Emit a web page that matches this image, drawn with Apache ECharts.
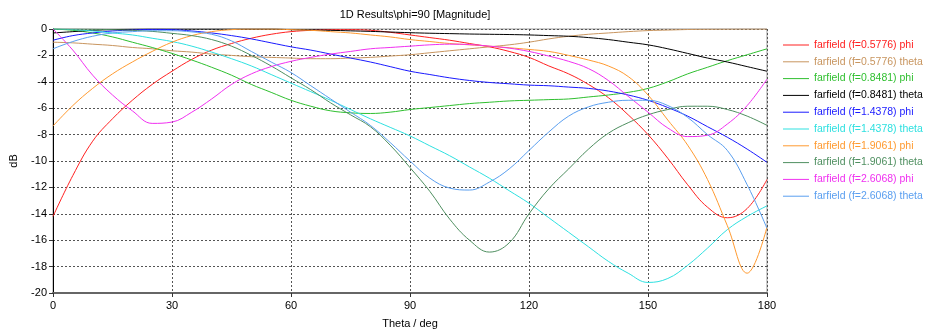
<!DOCTYPE html>
<html>
<head>
<meta charset="utf-8">
<script src="https://cdn.jsdelivr.net/npm/echarts@6/dist/echarts.min.js"></script>
<style>
html,body{margin:0;padding:0;background:#fff;}
#chart{width:933px;height:335px;}
</style>
</head>
<body>
<div id="chart"></div>
<script>
// Theta grid (deg)
const thetaDeg = [0,5,10,15,20,25,30,35,40,45,50,55,60,65,70,75,80,85,90,95,100,105,110,115,120,125,130,135,140,145,150,155,160,165,170,175,180];

const seriesNames = [
  'farfield (f=0.5776) phi',
  'farfield (f=0.5776) theta',
  'farfield (f=0.8481) phi',
  'farfield (f=0.8481) theta',
  'farfield (f=1.4378) phi',
  'farfield (f=1.4378) theta',
  'farfield (f=1.9061) phi',
  'farfield (f=1.9061) theta',
  'farfield (f=2.6068) phi',
  'farfield (f=2.6068) theta'
];

const f05776Phi   = [-14.2,-11.1,-8.5,-6.8,-5.4,-4.2,-3.2,-2.3,-1.6,-1.1,-0.7,-0.4,-0.2,-0.1,-0.05,-0.05,-0.1,-0.25,-0.45,-0.65,-0.85,-1.1,-1.35,-1.7,-2.15,-2.8,-3.4,-4.2,-5.2,-6.5,-8.0,-9.8,-11.8,-13.5,-14.3,-13.6,-11.4];
const f05776Theta = [-1.0,-1.05,-1.15,-1.25,-1.4,-1.5,-1.65,-1.75,-1.9,-2.0,-2.1,-2.15,-2.2,-2.25,-2.25,-2.2,-2.15,-2.05,-1.95,-1.8,-1.65,-1.5,-1.35,-1.2,-1.0,-0.75,-0.55,-0.4,-0.3,-0.2,-0.12,-0.08,-0.04,-0.02,-0.01,0,0];
const f08481Phi   = [0,-0.1,-0.3,-0.6,-1.0,-1.4,-1.85,-2.35,-2.9,-3.5,-4.2,-4.8,-5.4,-5.85,-6.2,-6.35,-6.4,-6.3,-6.1,-5.95,-5.8,-5.65,-5.55,-5.45,-5.4,-5.35,-5.3,-5.15,-5.0,-4.8,-4.5,-4.0,-3.4,-2.9,-2.4,-1.95,-1.5];
const f08481Theta = [-0.3,-0.2,-0.1,-0.05,-0.02,0,0,0,0,0,0,0,-0.05,-0.07,-0.1,-0.14,-0.18,-0.23,-0.28,-0.32,-0.35,-0.38,-0.4,-0.42,-0.45,-0.5,-0.55,-0.65,-0.8,-1.0,-1.2,-1.5,-1.85,-2.2,-2.5,-2.85,-3.2];
const f14378Phi   = [-0.85,-0.5,-0.3,-0.15,-0.08,-0.03,-0.05,-0.15,-0.3,-0.5,-0.75,-1.05,-1.35,-1.6,-1.9,-2.2,-2.5,-2.85,-3.2,-3.45,-3.7,-3.9,-4.05,-4.15,-4.25,-4.3,-4.4,-4.5,-4.7,-5.0,-5.4,-5.95,-6.6,-7.4,-8.2,-9.1,-10.1];
const f14378Theta = [0,-0.05,-0.15,-0.3,-0.45,-0.7,-0.95,-1.3,-1.75,-2.25,-2.8,-3.45,-4.1,-4.75,-5.4,-6.1,-6.8,-7.45,-8.1,-8.85,-9.6,-10.45,-11.3,-12.25,-13.2,-14.3,-15.4,-16.5,-17.6,-18.5,-19.2,-18.9,-17.9,-16.6,-15.2,-14.2,-13.4];
const f19061Phi   = [-7.35,-5.8,-4.5,-3.4,-2.5,-1.7,-1.0,-0.5,-0.2,-0.05,0,0,-0.05,-0.1,-0.2,-0.3,-0.45,-0.6,-0.8,-0.95,-1.1,-1.2,-1.3,-1.42,-1.55,-1.7,-2.0,-2.35,-2.8,-3.6,-5.0,-6.9,-8.8,-11.4,-14.9,-18.5,-15.0];
const f19061Theta = [0,0,-0.02,-0.05,-0.1,-0.18,-0.33,-0.5,-0.8,-1.3,-2.0,-2.8,-3.7,-4.6,-5.6,-6.5,-7.4,-8.8,-10.5,-12.3,-14.4,-16.0,-16.9,-16.2,-14.0,-12.1,-10.6,-9.1,-7.9,-7.1,-6.5,-6.1,-5.85,-5.85,-6.1,-6.6,-7.3];
const f26068Phi   = [0,-1.6,-3.5,-5.0,-6.2,-7.15,-7.05,-6.3,-5.3,-4.2,-3.4,-2.85,-2.45,-2.15,-1.9,-1.7,-1.5,-1.4,-1.3,-1.2,-1.15,-1.18,-1.3,-1.45,-1.7,-2.05,-2.45,-3.0,-3.9,-5.1,-6.3,-7.5,-8.15,-8.05,-7.2,-5.8,-3.8];
const f26068Theta = [-1.5,-0.95,-0.55,-0.3,-0.2,-0.13,-0.13,-0.22,-0.4,-0.9,-1.7,-2.5,-3.3,-4.3,-5.3,-6.3,-7.3,-8.6,-10.0,-11.3,-12.05,-12.2,-11.6,-10.6,-9.2,-7.8,-6.6,-5.9,-5.55,-5.4,-5.4,-5.8,-6.7,-8.0,-9.2,-11.8,-15.1];

const seriesValues = [f05776Phi,f05776Theta,f08481Phi,f08481Theta,f14378Phi,f14378Theta,f19061Phi,f19061Theta,f26068Phi,f26068Theta];
const seriesColors = ['#ff2020','#c8955f','#2fbf2f','#000000','#1a1aff','#2ee0e0','#ff9a30','#4f8f60','#f030f0','#5a9ff0'];

const yTicks = [0,-2,-4,-6,-8,-10,-12,-14,-16,-18,-20];
const xTicks = [0,30,60,90,120,150,180];

const FONT = 'Liberation Sans';

const chart = echarts.init(document.getElementById('chart'), null, {renderer:'canvas'});
chart.setOption({
  animation: false,
  backgroundColor: '#ffffff',
  title: {
    text: '1D Results\\phi=90 [Magnitude]',
    left: 410, top: 4, textAlign: 'center',
    textStyle: {fontFamily: FONT, fontSize: 11, fontWeight: 'normal', color: '#000'}
  },
  legend: {
    orient: 'vertical',
    left: 778, top: 34,
    itemWidth: 26, itemHeight: 1,
    itemGap: 4.8,
    icon: 'rect',
    textStyle: {fontFamily: FONT, fontSize: 10.5, lineHeight: 12},
    data: seriesNames.map((n,i)=>({name:n, textStyle:{color:seriesColors[i]}}))
  },
  grid: {left: 52, right: 166, top: 29, bottom: 42, show: true, borderColor: '#999', borderWidth: 1},
  xAxis: {
    type: 'value', min: 0, max: 180, interval: 30,
    name: 'Theta / deg', nameLocation: 'middle', nameGap: 25,
    nameTextStyle: {fontFamily: FONT, fontSize: 11, color: '#000'},
    axisLine: {show: true, onZero: false, lineStyle: {color: '#666', width: 2}},
    axisTick: {show: true, length: 4, lineStyle: {color: '#333'}},
    axisLabel: {fontFamily: FONT, fontSize: 11, color: '#000', margin: 7},
    splitLine: {show: true, lineStyle: {color: '#555', type: [2,2], width: 1}}
  },
  yAxis: {
    type: 'value', min: -20, max: 0, interval: 2,
    name: 'dB', nameLocation: 'middle', nameGap: 34, nameRotate: 90,
    nameTextStyle: {fontFamily: FONT, fontSize: 11, color: '#000'},
    axisLine: {show: true, onZero: false, lineStyle: {color: '#000', width: 1}},
    axisTick: {show: true, length: 4, lineStyle: {color: '#333'}},
    axisLabel: {fontFamily: FONT, fontSize: 11, color: '#000', margin: 6},
    splitLine: {show: true, lineStyle: {color: '#555', type: [2,2], width: 1}}
  },
  series: seriesNames.map((n,i)=>({
    name: n, type: 'line', smooth: 0.4, showSymbol: false, symbol: 'none',
    lineStyle: {color: seriesColors[i], width: 1},
    itemStyle: {color: seriesColors[i]},
    data: thetaDeg.map((t,k)=>[t, seriesValues[i][k]])
  }))
});
</script>
</body>
</html>
